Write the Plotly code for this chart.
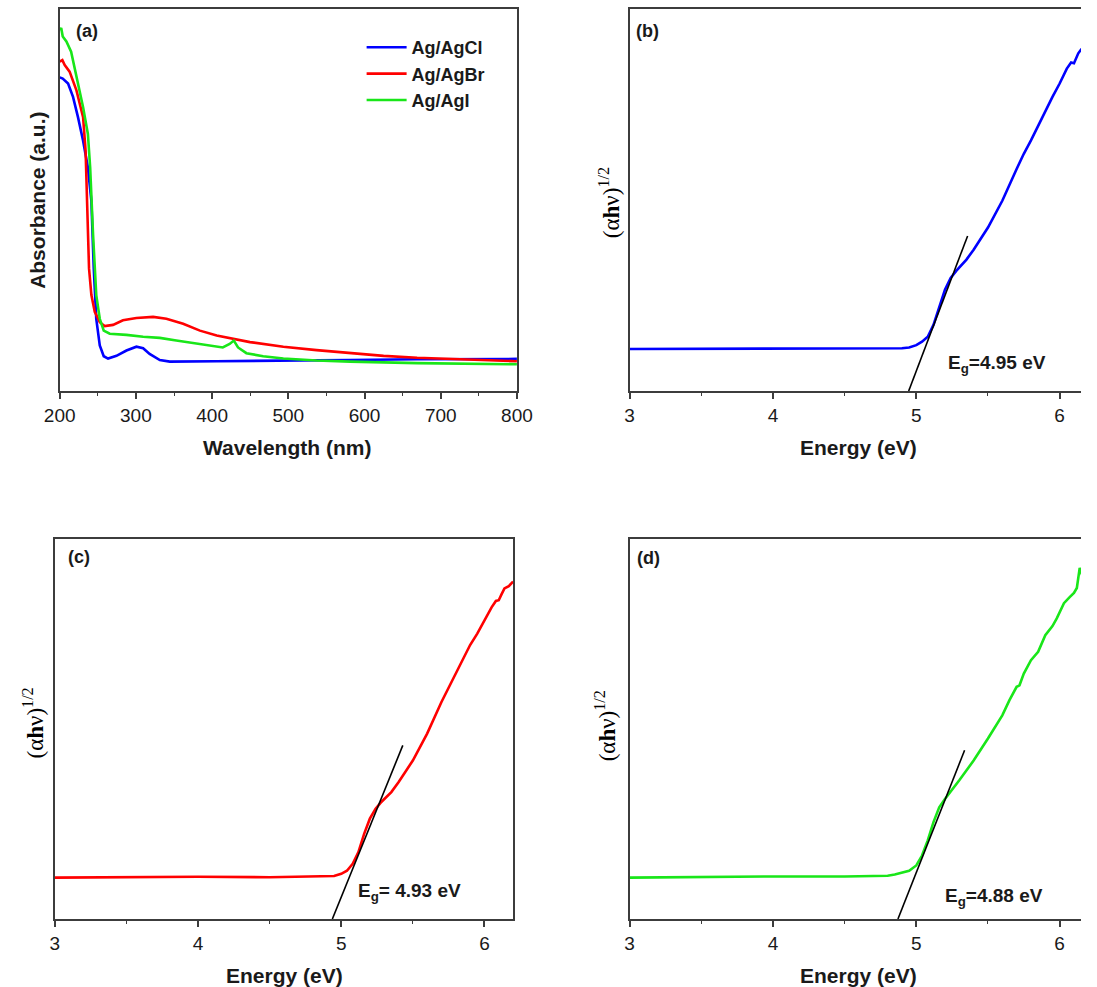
import plotly.graph_objects as go

W, H = 1097, 987

# ---------------- data (a): UV-vis absorbance (a.u., fraction of axis height)
agcl_wl = [200, 204, 211, 217.5, 224, 230.7, 237, 241.6, 244.7, 248, 252.6, 257.8, 263.5, 274.5,
           287.6, 300.7, 309.5, 318, 331.4, 344.5, 405.9, 493.5, 581, 669, 800]
agcl_abs = [0.821, 0.818, 0.805, 0.770, 0.717, 0.655, 0.585, 0.497, 0.321, 0.189, 0.119, 0.091, 0.085,
            0.092, 0.106, 0.116, 0.112, 0.097, 0.081, 0.077, 0.078, 0.079, 0.081, 0.083, 0.084]

agbr_wl = [200, 203.5, 206.6, 213, 222, 230.7, 234, 236, 238.5, 241.6, 246, 252.6, 259, 270, 283,
           300.7, 322.6, 340, 362, 384, 406, 449.7, 493.5, 537, 581, 625, 669, 712, 756, 800]
agbr_abs = [0.862, 0.866, 0.853, 0.836, 0.787, 0.717, 0.629, 0.497, 0.321, 0.251, 0.207, 0.180, 0.170,
            0.173, 0.185, 0.191, 0.194, 0.189, 0.176, 0.158, 0.145, 0.128, 0.116, 0.107, 0.099, 0.092,
            0.087, 0.084, 0.081, 0.078]

agi_wl = [200, 202, 204, 208.8, 215, 222, 230.7, 237, 240, 243.8, 248, 252.6, 257.8, 265.7, 287.6,
          309.5, 331.4, 353, 375, 397, 414, 423, 428.5, 434, 445, 467, 493.5, 537, 581, 669, 800]
agi_abs = [0.945, 0.950, 0.928, 0.915, 0.888, 0.822, 0.743, 0.673, 0.585, 0.409, 0.251, 0.189, 0.158,
           0.150, 0.147, 0.142, 0.139, 0.132, 0.126, 0.119, 0.114, 0.123, 0.132, 0.114, 0.099, 0.091,
           0.085, 0.080, 0.077, 0.073, 0.070]

# ---------------- data (b)-(d): Tauc plots (a.u., fraction of axis height)
b_e = [3.0, 4.0, 4.8, 4.9, 4.95, 5.0, 5.04, 5.08, 5.12, 5.16, 5.2, 5.24, 5.28, 5.35, 5.4, 5.5, 5.6,
       5.7, 5.75, 5.8, 5.85, 5.9, 5.95, 6.0, 6.05, 6.08, 6.1, 6.13, 6.15, 6.2]
b_y = [0.110, 0.111, 0.1115, 0.112, 0.114, 0.120, 0.129, 0.142, 0.173, 0.217, 0.265, 0.296, 0.315,
       0.344, 0.370, 0.428, 0.498, 0.581, 0.621, 0.656, 0.695, 0.735, 0.770, 0.805, 0.844, 0.860,
       0.858, 0.884, 0.894, 0.905]

c_e = [3.0, 4.0, 4.5, 4.9, 4.95, 5.0, 5.04, 5.08, 5.12, 5.16, 5.2, 5.24, 5.28, 5.35, 5.4, 5.5, 5.6,
       5.7, 5.8, 5.9, 5.95, 6.0, 6.05, 6.08, 6.1, 6.12, 6.14, 6.17, 6.2]
c_y = [0.109, 0.111, 0.110, 0.112, 0.113, 0.119, 0.127, 0.145, 0.176, 0.224, 0.264, 0.290, 0.308,
       0.334, 0.360, 0.417, 0.488, 0.571, 0.646, 0.721, 0.751, 0.786, 0.820, 0.837, 0.839, 0.855,
       0.870, 0.876, 0.888]

d_e = [3.0, 3.5, 4.0, 4.5, 4.8, 4.85, 4.9, 4.95, 5.0, 5.04, 5.08, 5.12, 5.16, 5.2, 5.3, 5.4, 5.5,
       5.55, 5.6, 5.65, 5.7, 5.72, 5.75, 5.8, 5.85, 5.9, 5.95, 5.98, 6.0, 6.03, 6.07, 6.1, 6.12,
       6.14, 6.16, 6.2]
d_y = [0.109, 0.111, 0.112, 0.112, 0.114, 0.117, 0.121, 0.127, 0.141, 0.167, 0.207, 0.255, 0.294,
       0.316, 0.365, 0.417, 0.475, 0.505, 0.536, 0.576, 0.611, 0.615, 0.646, 0.681, 0.703, 0.747,
       0.771, 0.791, 0.809, 0.831, 0.847, 0.858, 0.871, 0.924, 0.902, 0.92]

# tangent (extrapolation) lines: [x0, x1], [y0, y1]
b_tan_x, b_tan_y = [4.947, 5.358], [0.0, 0.406]
c_tan_x, c_tan_y = [4.938, 5.430], [0.0, 0.457]
d_tan_x, d_tan_y = [4.872, 5.337], [0.0, 0.444]

eg_labels = ["E<sub>g</sub>=4.95 eV", "E<sub>g</sub>= 4.93 eV", "E<sub>g</sub>=4.88 eV"]
wl_ticks = [200, 300, 400, 500, 600, 700, 800]
e_ticks = [3, 4, 5, 6]

BLUE, RED, GREEN = "#0000FF", "#FF0000", "#19E619"
AXC = "#3c3c3c"
SANS = "Arial, Liberation Sans, sans-serif"
SERIF = "Times New Roman, Liberation Serif, serif"


def px(x):
    return x / W


def py(y):
    return 1 - y / H


fig = go.Figure()

fig.add_trace(go.Scatter(x=agcl_wl, y=agcl_abs, mode="lines", name="<b>Ag/AgCl</b>",
                         line=dict(color=BLUE, width=2.6), xaxis="x", yaxis="y"))
fig.add_trace(go.Scatter(x=agbr_wl, y=agbr_abs, mode="lines", name="<b>Ag/AgBr</b>",
                         line=dict(color=RED, width=2.6), xaxis="x", yaxis="y"))
fig.add_trace(go.Scatter(x=agi_wl, y=agi_abs, mode="lines", name="<b>Ag/AgI</b>",
                         line=dict(color=GREEN, width=2.6), xaxis="x", yaxis="y"))

for xs, ys, col, ax, ay in [(b_e, b_y, BLUE, "x2", "y2"), (c_e, c_y, RED, "x3", "y3"),
                            (d_e, d_y, GREEN, "x4", "y4")]:
    fig.add_trace(go.Scatter(x=xs, y=ys, mode="lines", showlegend=False,
                             line=dict(color=col, width=2.6), xaxis=ax, yaxis=ay))

for xs, ys, ax, ay in [(b_tan_x, b_tan_y, "x2", "y2"), (c_tan_x, c_tan_y, "x3", "y3"),
                       (d_tan_x, d_tan_y, "x4", "y4")]:
    fig.add_trace(go.Scatter(x=xs, y=ys, mode="lines", showlegend=False,
                             line=dict(color="black", width=1.6), xaxis=ax, yaxis=ay))

top_dom = [py(391), py(9)]
bot_dom = [py(919), py(539)]
left_a = [px(45), px(516)]
left_c = [px(40), px(512)]
right_dom = [px(632), 1.0]
e_per_px = 3 / (1075 - 632)
right_range = [3, 3 + (W - 632) * e_per_px]

tickfont = dict(family=SANS, size=19, color="#1a1a1a")


def xax(dom, rng, ticks, minor_dt, anchor):
    return dict(domain=dom, range=rng, tickvals=ticks, ticks="outside", ticklen=6, tickwidth=1.5,
                tickcolor=AXC, showline=True, linecolor=AXC, linewidth=1.6, mirror=True,
                showgrid=False, zeroline=False, tickfont=tickfont, anchor=anchor,
                minor=dict(ticks="outside", ticklen=3.5, tickwidth=1.2, tickcolor=AXC, dtick=minor_dt,
                           showgrid=False))


def yax(dom, anchor, mirror):
    return dict(domain=dom, range=[0, 1], showticklabels=False, ticks="", showline=True,
                linecolor=AXC, linewidth=1.6, mirror=mirror, showgrid=False, zeroline=False,
                anchor=anchor)


fig.update_layout(
    width=W, height=H, margin=dict(l=0, r=0, t=0, b=0),
    paper_bgcolor="white", plot_bgcolor="white",
    xaxis=xax(left_a, [200, 800], wl_ticks, 50, "y"),
    yaxis=yax(top_dom, "x", True),
    xaxis2=xax(right_dom, right_range, e_ticks, 0.5, "y2"),
    yaxis2=yax(top_dom, "x2", False),
    xaxis3=xax(left_c, [3, 6.2], e_ticks, 0.5, "y3"),
    yaxis3=yax(bot_dom, "x3", True),
    xaxis4=xax(right_dom, right_range, e_ticks, 0.5, "y4"),
    yaxis4=yax(bot_dom, "x4", False),
    legend=dict(x=px(356), y=py(29), xanchor="left", yanchor="top", bgcolor="rgba(0,0,0,0)",
                font=dict(family=SANS, size=18, color="#1a1a1a"), itemwidth=40,
                tracegroupgap=0),
    showlegend=True,
)

ann = []
bold = dict(family=SANS, size=21, color="#1a1a1a")
# axis titles
ann.append(dict(text="<b>Absorbance (a.u.)</b>", x=px(21.5), y=py(200), textangle=-90, font=bold))
ann.append(dict(text="<b>Wavelength (nm)</b>", x=px(279), y=py(447), font=bold))
ann.append(dict(text="<b>Energy (eV)</b>", x=px(868), y=py(447), font=bold))
ann.append(dict(text="<b>Energy (eV)</b>", x=px(277), y=py(975), font=bold))
ann.append(dict(text="<b>Energy (eV)</b>", x=px(868), y=py(975), font=bold))
tauc_title = "(α<b>h</b>ν)<sup>1/2</sup>"
serif = dict(family=SERIF, size=23, color="black")
ann.append(dict(text=tauc_title, x=px(612), y=py(203), textangle=-90, font=serif))
ann.append(dict(text=tauc_title, x=px(18), y=py(723), textangle=-90, font=serif))
ann.append(dict(text=tauc_title, x=px(607), y=py(726), textangle=-90, font=serif))
# panel labels
lab = dict(family=SANS, size=18, color="#1a1a1a")
for t, x, y in [("(a)", 60, 31), ("(b)", 637, 31), ("(c)", 51, 557), ("(d)", 638, 558)]:
    ann.append(dict(text="<b>%s</b>" % t, x=px(x), y=py(y), xanchor="left", font=lab))
# band gap labels
eg = dict(family=SANS, size=19, color="#1a1a1a")
for t, x, y in [(eg_labels[0], 958, 364), (eg_labels[1], 350, 892), (eg_labels[2], 955, 897)]:
    ann.append(dict(text="<b>%s</b>" % t, x=px(x), y=py(y), xanchor="left", font=eg))

for a in ann:
    a.setdefault("xanchor", "center")
    a.setdefault("yanchor", "middle")
    a.update(xref="paper", yref="paper", showarrow=False)
fig.update_layout(annotations=ann)

fig.write_html("out.html")
